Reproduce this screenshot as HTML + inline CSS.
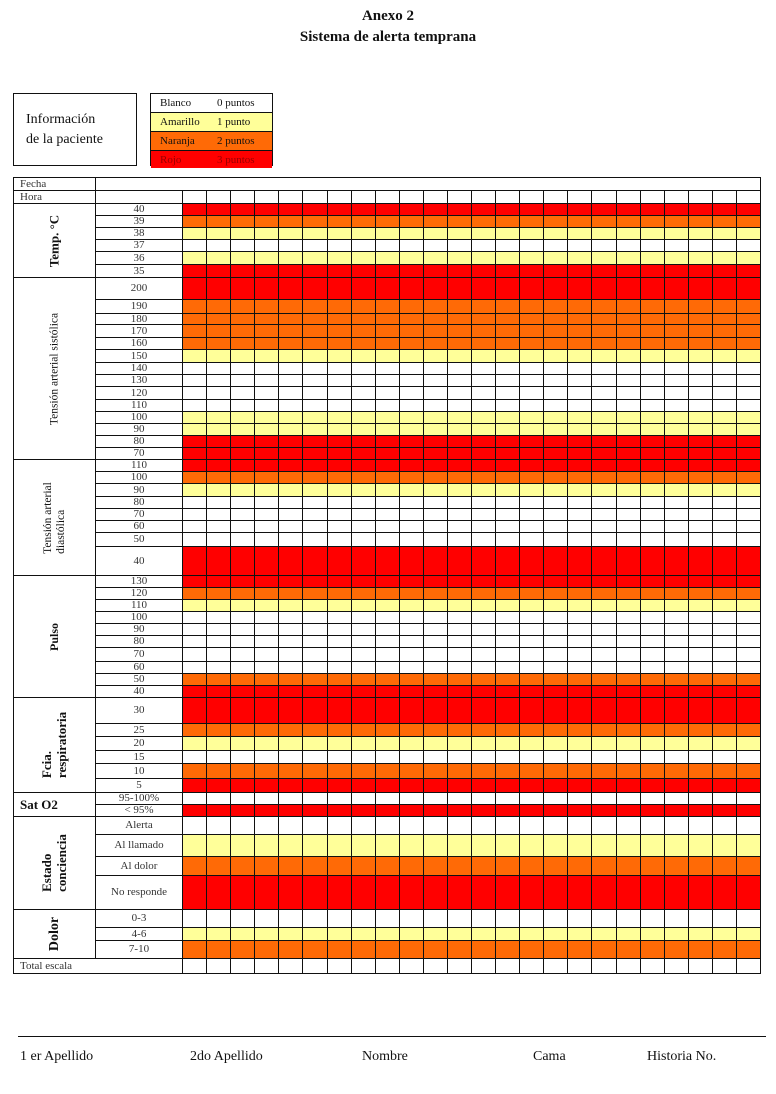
<!DOCTYPE html>
<html><head><meta charset="utf-8">
<style>
body{margin:0;background:#fff;width:776px;height:1094px;position:relative;overflow:hidden;font-family:"Liberation Serif",serif;color:#111}
.a{position:absolute;box-sizing:border-box}
.c{position:absolute;box-sizing:border-box;border:1px solid #111;display:flex;align-items:center;justify-content:center;font-size:11px;line-height:1;color:#333}
.rot{position:absolute;transform:translate(-50%,-50%) rotate(-90deg);white-space:nowrap;text-align:left;line-height:1.15}
</style></head><body>
<div class="a" style="left:0;width:776px;top:6px;text-align:center;font-weight:bold;font-size:15px;line-height:21px">Anexo 2<br>Sistema de alerta temprana</div>

<div class="a" style="left:13px;top:93px;width:124px;height:73px;border:1px solid #111;font-size:14px;line-height:20px;padding:16px 0 0 12px">Información<br>de la paciente</div>

<div class="a" style="left:150px;top:93px;width:123px;height:73px;border:1px solid #111;font-size:11px">
 <div style="height:18px;background:#fff;display:flex;align-items:center;border-bottom:1px solid #111"><span style="width:57px;padding-left:9px">Blanco</span><span>0 puntos</span></div>
 <div style="height:18px;background:#ffff99;display:flex;align-items:center;border-bottom:1px solid #111"><span style="width:57px;padding-left:9px">Amarillo</span><span>1 punto</span></div>
 <div style="height:18px;background:#ff6a06;display:flex;align-items:center;border-bottom:1px solid #111"><span style="width:57px;padding-left:9px">Naranja</span><span>2 puntos</span></div>
 <div style="height:17px;background:#ff0000;display:flex;align-items:center;color:#900"><span style="width:57px;padding-left:9px">Rojo</span><span>3 puntos</span></div>
</div>

<div id="grid"></div>

<div class="a" style="left:18px;top:1036px;width:748px;border-top:1px solid #111"></div>
<div class="a" style="left:20px;top:1049px;font-size:14px">1 er Apellido</div>
<div class="a" style="left:190px;top:1049px;font-size:14px">2do Apellido</div>
<div class="a" style="left:362px;top:1049px;font-size:14px">Nombre</div>
<div class="a" style="left:533px;top:1049px;font-size:14px">Cama</div>
<div class="a" style="left:647px;top:1049px;font-size:14px">Historia No.</div>

<script>
const rowLabels=["40","39","38","37","36","35",
"200","190","180","170","160","150","140","130","120","110","100","90","80","70",
"110","100","90","80","70","60","50","40",
"130","120","110","100","90","80","70","60","50","40",
"30","25","20","15","10","5",
"95-100%","< 95%",
"Alerta","Al llamado","Al dolor","No responde",
"0-3","4-6","7-10"];
const rowScores=[3,2,1,0,1,3,
3,2,2,2,2,1,0,0,0,0,1,1,3,3,
3,2,1,0,0,0,0,3,
3,2,1,0,0,0,0,0,2,3,
3,2,1,0,2,3,
0,3,
0,1,2,3,
0,1,2];
const rowEdges=[203,215,227,239,251,264,277,
299,313,324,337,349,362,374,386,399,411,423,435,447,459,
471,483,496,508,520,532,546,575,
587,599,611,623,635,647,661,673,685,697,
723,736,750,763,778,792,
804,816,
834,856,875,909,
927,940,958];
const sections=[
 {name:"Temp. °C",start:0,end:6,bold:true,size:13,rot:true},
 {name:"Tensión arterial sistólica",start:6,end:20,bold:false,size:11.5,rot:true},
 {name:"Tensión arterial<br>diastólica",start:20,end:28,bold:false,size:11.5,rot:true},
 {name:"Pulso",start:28,end:38,bold:true,size:12,rot:true},
 {name:"Fcia.<br>respiratoria",start:38,end:44,bold:true,size:13,rot:true},
 {name:"Sat O2",start:44,end:46,bold:true,size:13,rot:false},
 {name:"Estado<br>conciencia",start:46,end:50,bold:true,size:13,rot:true},
 {name:"Dolor",start:50,end:53,bold:true,size:14,rot:true}];
const colors=["#ffffff","#ffff99","#ff6a06","#ff0000"];
const NCOLS=24, X0=13, X1=95, X2=182, XR=760;
const CW=(XR-X2)/NCOLS;
function colX(c){return Math.round(X2+c*CW);}
const g=document.getElementById('grid');
function cell(x,y,w,h,txt,bg,name){
  const d=document.createElement('div');
  d.className='c';
  
  
  d.style.left=x+'px';d.style.top=y+'px';d.style.width=(w+1)+'px';d.style.height=(h+1)+'px';
  if(bg)d.style.background=bg;
  if(txt!=null)d.innerHTML=txt;
  g.appendChild(d);return d;
}
let f=cell(X0,177,X1-X0,13,"Fecha",null,"fecha-label");f.style.justifyContent='flex-start';f.style.paddingLeft='6px';
cell(X1,177,XR-X1,13,"",null,"fecha-field");
let h=cell(X0,190,X1-X0,13,"Hora",null,"hora-label");h.style.justifyContent='flex-start';h.style.paddingLeft='6px';
cell(X1,190,X2-X1,13,"",null,"hora-blank");
for(let c=0;c<NCOLS;c++){
  const hc=cell(colX(c),190,colX(c+1)-colX(c),13,"",null,"hora-cell");
  
}
for(let i=0;i<rowLabels.length;i++){
  const y=rowEdges[i],hh=rowEdges[i+1]-y;
  cell(X1,y,X2-X1,hh,rowLabels[i].replace('<','&lt;'),null,"row-label");
  for(let c=0;c<NCOLS;c++){
    const rc=cell(colX(c),y,colX(c+1)-colX(c),hh,"",colors[rowScores[i]],"score-cell");
    
  }
}
sections.forEach(s=>{
  const y=rowEdges[s.start],hh=rowEdges[s.end]-y;
  const d=cell(X0,y,X1-X0,hh,"",null,"section-label");
  d.style.color='#111';
  const t=document.createElement('div');
  
  
  t.innerHTML=s.name;
  t.style.fontSize=s.size+'px';
  t.style.fontWeight=s.bold?'bold':'normal';
  if(s.rot){t.className='rot';t.style.left='50%';t.style.top='50%';}
  else{d.style.justifyContent='flex-start';d.style.paddingLeft='6px';}
  d.appendChild(t);
});
let tl=cell(X0,958,X2-X0,15,"Total escala",null,"total-label");tl.style.justifyContent='flex-start';tl.style.paddingLeft='6px';
for(let c=0;c<NCOLS;c++){
  const tc=cell(colX(c),958,colX(c+1)-colX(c),15,"",null,"total-cell");
  
}
</script>
</body></html>
